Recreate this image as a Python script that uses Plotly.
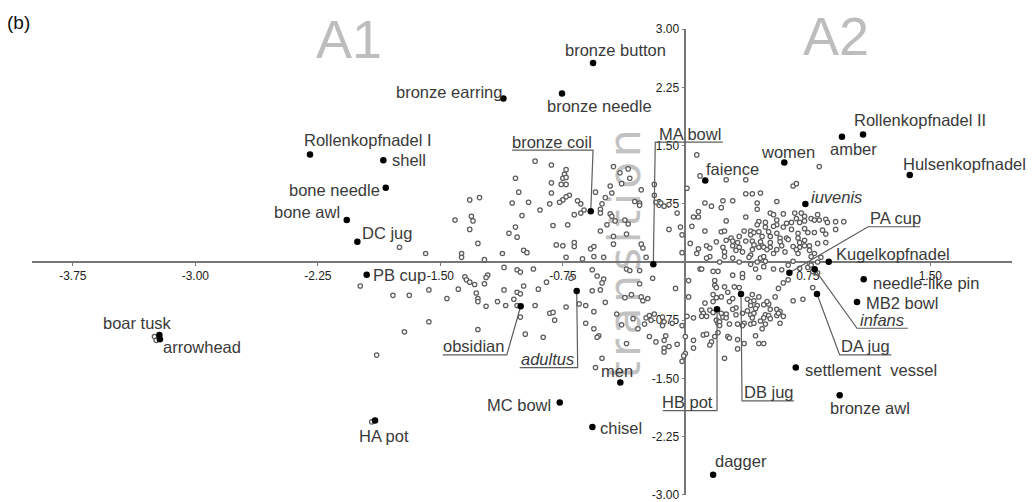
import plotly.graph_objects as go

# ---------------- data ----------------
circ_x = [
    -3.25, -3.24, -1.92, -1.99, -1.89, -1.79, -1.69, -1.72, -1.57, -1.57, -1.59, -1.75, -1.41, -1.46, -1.39,
    -1.37, -1.37, -1.35, -1.34, -1.32, -1.29, -1.32, -1.26, -1.31, -1.30, -1.32, -1.27, -1.23, -1.21, -1.22,
    -1.23, -1.28, -1.27, -1.27, -1.22, -1.15, -1.11, -1.10, -1.05, -1.03, -1.01, -0.99, -1.11, -1.03, -1.01,
    -0.93, -1.12, -0.99, -0.97, -1.03, -0.92, -1.01, -0.98, -1.27, -0.92, -1.04, -1.02, -1.06, -0.96, -0.89,
    -1.00, -1.04, -1.08, -1.03, -0.82, -0.73, -0.74, -0.75, -0.73, -0.82, -0.76, -0.73, -0.82, -0.71, -0.73,
    -0.75, -0.77, -0.83, -0.66, -0.64, -0.62, -0.64, -0.68, -0.81, -0.72, -0.55, -0.51, -0.52, -0.52, -0.49,
    -0.45, -0.46, -0.44, -0.40, -0.35, -0.34, -0.39, -0.46, -0.45, -0.43, -0.48, -0.37, -0.35, -0.52, -0.44,
    -0.36, -0.31, -0.28, -0.28, -0.27, -0.19, -0.19, -0.18, -0.15, -0.13, -0.10, -0.05, 0.01, 0.07, 0.08,
    0.05, -0.10, -0.03, -0.02, 0.04, -0.79, -0.75, -0.68, -0.68, -0.63, -0.58, -0.56, -0.56, -0.50, -0.44,
    -0.27, -0.26, -0.24, -0.02, 0.08, -0.73, -0.85, -0.70, -0.57, -0.54, -0.50, -0.51, -0.36, -0.34, -0.28,
    -0.20, -0.28, -0.06, 0.09, 0.02, 0.02, -0.57, -0.52, -0.65, -0.61, -0.73, -0.49, -0.37, -0.33, -0.27,
    -0.26, -0.23, -0.56, -0.42, -0.83, -0.81, -0.80, -0.61, -0.32, -0.39, -0.24, -0.22, -0.19, -0.25, -0.21,
    -0.14, -0.13, -0.14, -0.08, -0.02, 0.01, -0.29, -0.56, -0.53, -0.54, -0.87, -0.22, -0.18, -0.12, -0.13,
    0.00, 0.05, -0.36, -0.13, -0.13, -0.10, -0.05, 0.00, -0.01, 0.05, -0.02, -0.51, -0.55, -0.90,
    0.21, 0.33, 0.40, 0.44, 0.46, 0.48, 0.49, 0.43, 0.48, 0.10, 0.17, 0.20, 0.29, 0.35, 0.35,
    0.45, 0.54, 0.59, 0.63, 0.66, 0.70, 0.75, 0.77, 0.81, 0.83, 0.78, 0.81,
    0.18, 0.18, 0.19, 0.24, 0.30, 0.33, 0.26, 0.22, 0.19, 0.17, 0.41, 0.45, 0.57, 0.60, 0.63,
    0.55, 0.66, 0.72, 0.78,
    0.12, 0.17, 0.27, 0.31, 0.29, 0.29, 0.38, 0.40, 0.40, 0.42, 0.44, 0.43, 0.48, 0.51, 0.50,
    0.52, 0.56, 0.58, 0.49, 0.48, 0.51, 0.52, 0.56, 0.57, 0.60, 0.38, 0.40, 0.42, 0.41, 0.35,
    0.31, 0.25, 0.23, 0.25, 0.22, 0.10, 0.11, 0.10, 0.15, 0.17, 0.05, 0.13, 0.19, 0.20, 0.21,
    0.21, 0.27, 0.32, 0.36, 0.35, 0.40, 0.42, 0.46, 0.49, 0.58, 0.47, 0.11, 0.13, 0.18, 0.20,
    0.26, 0.27, 0.32, 0.43, 0.36, 0.45, 0.48, 0.16, 0.15, 0.24, 0.32,
    0.09, 0.25, 0.37, 0.82, 0.66, 0.68, 0.37, 0.41, 0.46, 0.12, 0.16, 0.23, 0.22, 0.29, 0.44,
    0.44, 0.56, 0.08, 0.37, 0.25, 0.52, 0.54, 0.60, 0.67, 0.71, 0.68, 0.65, 0.70, 0.73, 0.73,
    0.77, 0.79, 0.81, 0.82, 0.86, 0.87, 0.92, 0.45, 0.44, 0.49, 0.49, 0.56, 0.56, 0.54, 0.60,
    0.62, 0.65, 0.69, 0.73, 0.75, 0.79, 0.84, 0.86, 0.12, 0.22, 0.24, 0.36, 0.40, 0.40, 0.42,
    0.45, 0.47, 0.51, 0.52, 0.56, 0.58, 0.62, 0.69, 0.70, 0.73, 0.76, 0.81, 0.86, 0.19, 0.25,
    0.28, 0.29, 0.33, 0.32, 0.37, 0.41, 0.42, 0.46, 0.47, 0.52, 0.52, 0.58, 0.59, 0.63, 0.66,
    0.70, 0.73, 0.03, 0.13, 0.15, 0.23, 0.24, 0.29, 0.31, 0.33, 0.35, 0.41, 0.40, 0.45, 0.48,
    0.50, 0.54, 0.56, 0.61, 0.68, 0.69, 0.76, 0.79, 0.77, 0.39, 0.24, 0.29, 0.15, 0.13, 0.07,
    0.92, 0.97,
]
circ_y = [
    -0.96, -1.01, -2.06, -0.31, -1.20, -0.43, -0.43, -0.90, -0.36, -0.77, 0.11, 0.19, 0.54, -0.47, -0.35,
    0.11, 0.06, -0.19, -0.23, -0.26, -0.29, 0.80, 0.83, 0.59, 0.53, 0.42, 0.24, 0.03, -0.17, -0.20,
    -0.28, -0.40, -0.47, -0.51, -0.57, -0.51, -0.36, -0.56, -0.48, -0.39, -0.41, -0.31, -0.07, -0.10, -0.13,
    -0.09, 0.11, 0.15, 0.12, -0.56, -0.56, -0.71, -0.93, -0.87, 1.30, 1.08, 0.90, 0.76, 0.77, 0.67,
    0.60, 0.45, 0.37, 0.32, 1.25, 1.19, 1.13, 1.08, 1.09, 1.02, 1.00, 1.00, 0.89, 0.86, 0.84,
    0.80, 0.77, 0.75, 0.79, 0.75, 0.67, 0.63, 0.61, 0.47, 0.48, 0.90, 0.75, 0.68, 0.63, 0.83,
    0.89, 0.98, 1.23, 1.15, 1.20, 1.08, 1.01, 0.62, 0.59, 0.53, 0.48, 0.54, 0.49, 0.40, 0.33,
    0.36, 0.78, 0.76, 0.73, 0.93, 1.00, 0.86, 0.77, 0.76, 0.72, 0.74, 0.63, 0.95, 1.38, 0.65,
    0.58, 0.42, 0.45, 0.35, 0.46, 0.22, 0.21, 0.25, 0.20, 0.04, 0.17, 0.20, 0.07, 0.06, 0.23,
    0.23, 0.18, 0.06, 0.12, 0.17, 0.06, -0.26, -0.21, -0.10, -0.18, -0.22, -0.27, -0.09, -0.11, -0.11,
    -0.21, -0.28, -0.34, -0.09, -0.24, -0.45, -0.37, -0.36, -0.54, -0.56, -0.58, -0.52, -0.46, -0.42, -0.45,
    -0.50, -0.47, -0.64, -0.67, -0.66, -0.65, -0.75, -0.79, -0.73, -0.81, -0.72, -0.69, -0.67, -0.80, -0.75,
    -0.71, -0.77, -0.82, -0.79, -0.82, -0.70, -0.86, -0.86, -0.95, -0.97, -0.97, -0.96, -1.03, -0.95, -1.01,
    -0.96, -1.01, -1.05, -1.11, -1.16, -1.09, -1.06, -1.18, -1.21, -1.11, -1.28, -1.24, -1.36, -0.35,
    0.00, 0.00, -0.03, 0.00, 0.05, 0.07, 0.01, -0.09, -0.06, -0.09, -0.12, -0.12, -0.17, -0.15, -0.20,
    -0.20, -0.09, -0.10, -0.04, 0.01, -0.08, -0.07, -0.04, 0.00, 0.06, -0.12, -0.14,
    -0.24, -0.30, -0.33, -0.32, -0.32, -0.33, -0.39, -0.45, -0.46, -0.42, -0.42, -0.45, -0.34, -0.27, -0.23,
    -0.45, -0.50, -0.48, -0.33,
    -0.53, -0.51, -0.51, -0.59, -0.61, -0.47, -0.48, -0.51, -0.56, -0.50, -0.56, -0.60, -0.55, -0.54, -0.51,
    -0.61, -0.61, -0.64, -0.68, -0.72, -0.69, -0.73, -0.69, -0.66, -0.70, -0.63, -0.68, -0.66, -0.72, -0.66,
    -0.68, -0.67, -0.71, -0.72, -0.66, -0.62, -0.66, -0.70, -0.62, -0.65, -0.72, -0.70, -0.75, -0.79, -0.77,
    -0.82, -0.80, -0.80, -0.79, -0.82, -0.80, -0.79, -0.76, -0.80, -0.79, -0.86, -0.94, -0.93, -0.96, -0.91,
    -0.96, -0.98, -1.00, -0.95, -1.05, -1.05, -1.05, -1.03, -1.07, -1.24, -1.12,
    1.11, 1.06, 1.06, 1.23, 0.98, 1.01, 0.88, 0.88, 0.89, 0.76, 0.72, 0.79, 0.70, 0.79, 0.76,
    0.68, 0.78, 0.58, 0.58, 0.53, 0.63, 0.61, 0.62, 0.63, 0.63, 0.56, 0.51, 0.51, 0.53, 0.59,
    0.56, 0.54, 0.61, 0.54, 0.55, 0.51, 0.42, 0.52, 0.48, 0.45, 0.51, 0.54, 0.48, 0.46, 0.45,
    0.50, 0.42, 0.37, 0.43, 0.38, 0.38, 0.41, 0.36, 0.40, 0.39, 0.40, 0.40, 0.40, 0.35, 0.38,
    0.39, 0.33, 0.39, 0.33, 0.37, 0.31, 0.31, 0.31, 0.25, 0.28, 0.21, 0.24, 0.25, 0.26, 0.28,
    0.31, 0.27, 0.33, 0.25, 0.27, 0.27, 0.22, 0.26, 0.21, 0.25, 0.19, 0.26, 0.21, 0.29, 0.20,
    0.19, 0.21, 0.24, 0.21, 0.18, 0.19, 0.13, 0.21, 0.15, 0.19, 0.13, 0.16, 0.09, 0.19, 0.19,
    0.16, 0.11, 0.16, 0.13, 0.16, 0.11, 0.15, 0.11, 0.07, 0.06, 0.07, 0.05, 0.07, 0.05, 0.11,
    0.52, 0.52,
]

item_names = [
    "bronze button", "bronze needle", "bronze earring", "Rollenkopfnadel I", "shell", "bone needle",
    "bone awl", "DC jug", "PB cup", "boar tusk", "arrowhead", "HA pot", "obsidian", "adultus", "men",
    "MC bowl", "chisel", "dagger", "HB pot", "DB jug", "DA jug", "infans", "Kugelkopfnadel", "PA cup",
    "needle-like pin", "MB2 bowl", "settlement  vessel", "bronze awl", "Hulsenkopfnadel",
    "Rollenkopfnadel II", "amber", "women", "faience", "iuvenis", "bronze coil", "MA bowl",
]
item_x = [
    -0.565, -0.755, -1.114, -2.298, -1.849, -1.834, -2.073, -2.008, -1.951, -3.220, -3.217, -1.900,
    -1.008, -0.665, -0.398, -0.769, -0.569, 0.170, 0.194, 0.341, 0.806, 0.792, 0.878, 0.637,
    1.092, 1.051, 0.676, 0.945, 1.374, 1.088, 0.959, 0.606, 0.122, 0.735, -0.579, -0.196,
]
item_y = [
    2.566, 2.172, 2.108, 1.387, 1.313, 0.957, 0.541, 0.261, -0.164, -0.940, -0.995, -2.043,
    -0.570, -0.373, -1.554, -1.812, -2.128, -2.742, -0.609, -0.412, -0.412, -0.094, 0.004, -0.138,
    -0.223, -0.515, -1.361, -1.716, 1.120, 1.644, 1.613, 1.284, 1.052, 0.747, 0.653, -0.030,
]

x_ticks = [-3.75, -3.00, -2.25, -1.50, -0.75, 0.75, 1.50]
y_ticks = [3.00, 2.25, 1.50, 0.75, -0.75, -1.50, -2.25, -3.00]

# ---------------- label layout ----------------
ITALIC = {"iuvenis", "infans", "adultus"}

# plain labels: pixel offset (dx, dy) of the text centre from its point
plain_offsets = {
    "bronze button": (22, 12.7), "bronze needle": (37.7, -12.7), "bronze earring": (-54.3, 6.6),
    "Rollenkopfnadel I": (58, 14.3), "shell": (25.5, 0), "bone needle": (-51.5, -2.3),
    "bone awl": (-40.2, 7.7), "DC jug": (29.9, 8.4), "PB cup": (33.3, -0.3),
    "boar tusk": (-22.3, 12.3), "arrowhead": (42, -8), "HA pot": (8.8, -15.3),
    "MC bowl": (-40.7, -2.3), "chisel": (29, -1), "men": (-3, 11.7), "dagger": (28, 13.3),
    "settlement  vessel": (75.1, -2.3), "bronze awl": (30.8, -13), "needle-like pin": (62.3, -4),
    "MB2 bowl": (44.5, -1.3), "Kugelkopfnadel": (63.8, 7.7), "iuvenis": (31.2, 7.3),
    "women": (4, 10.6), "amber": (12, -12.6), "Rollenkopfnadel II": (57.3, 14.3),
    "Hulsenkopfnadel": (54.8, 11), "faience": (27.7, 11),
}

# underlined labels with leader lines: text centre x, underline x0, x1, y, end joined to the point
leaders = {
    "bronze coil": (-0.819, -1.061, -0.565, 1.442, "right"),
    "MA bowl": (0.026, -0.184, 0.229, 1.545, "left"),
    "PA cup": (1.287, 1.119, 1.437, 0.454, "left"),
    "infans": (1.207, 1.051, 1.362, -0.854, "left"),
    "DA jug": (1.100, 0.945, 1.261, -1.197, "left"),
    "DB jug": (0.511, 0.347, 0.664, -1.790, "left"),
    "HB pot": (0.016, -0.138, 0.194, -1.915, "right"),
    "adultus": (-0.845, -1.014, -0.659, -1.361, "right"),
    "obsidian": (-1.294, -1.485, -1.093, -1.197, "right"),
}

FONT = "Liberation Sans, Arial, sans-serif"
LABEL_COLOR = "#3a3a3a"
LABEL_SIZE = 16.5

fig = go.Figure()

# "transition" watermark, under the points
fig.add_shape(
    type="rect", xref="x", yref="y", x0=-0.49, x1=-0.29, y0=-1.5, y1=1.706,
    line=dict(width=0), fillcolor="rgba(0,0,0,0)", layer="between",
    label=dict(text="\u200a".join("transition"), textangle=-90, textposition="middle center",
               font=dict(size=44, color="#c2c2c2", family="DejaVu Sans, sans-serif")),
)

# leader lines
lx, ly = [], []
pos = {n: (x, y) for n, x, y in zip(item_names, item_x, item_y)}
for name, (tcx, ux0, ux1, uy, side) in leaders.items():
    px_, py_ = pos[name]
    if side == "right":
        lx += [ux0, ux1, px_, None]
    else:
        lx += [ux1, ux0, px_, None]
    ly += [uy, uy, py_, None]

fig.add_trace(go.Scatter(
    x=circ_x, y=circ_y, mode="markers", hoverinfo="skip",
    marker=dict(size=4.4, color="white", line=dict(color="#5c5c5c", width=1.25)),
))
fig.add_trace(go.Scatter(
    x=lx, y=ly, mode="lines", hoverinfo="skip",
    line=dict(color="#5e5e5e", width=1.2),
))
fig.add_trace(go.Scatter(
    x=item_x, y=item_y, mode="markers", text=item_names, hoverinfo="text",
    marker=dict(size=6.5, color="black"),
))

annotations = []
for name, x, y in zip(item_names, item_x, item_y):
    txt = f"<i>{name}</i>" if name in ITALIC else name
    if name in plain_offsets:
        dx, dy = plain_offsets[name]
        annotations.append(dict(
            x=x, y=y, xref="x", yref="y", text=txt, showarrow=False,
            xanchor="center", yanchor="middle", xshift=dx, yshift=dy,
            font=dict(size=LABEL_SIZE, color=LABEL_COLOR, family=FONT),
        ))
    else:
        tcx, ux0, ux1, uy, side = leaders[name]
        annotations.append(dict(
            x=tcx, y=uy, xref="x", yref="y", text=txt, showarrow=False,
            xanchor="center", yanchor="middle", yshift=8.5,
            font=dict(size=LABEL_SIZE, color=LABEL_COLOR, family=FONT),
        ))

annotations += [
    dict(x=-2.059, y=2.871, xref="x", yref="y", text="A1", showarrow=False,
         font=dict(size=54, color="#bdbdbd", family=FONT)),
    dict(x=0.920, y=2.910, xref="x", yref="y", text="A2", showarrow=False,
         font=dict(size=54, color="#bdbdbd", family=FONT)),
    dict(x=-0.0133, y=1.0129, xref="paper", yref="paper", text="(b)", showarrow=False,
         xanchor="center", yanchor="middle", font=dict(size=19, color="#111", family=FONT)),
]

fig.update_layout(
    width=1034, height=502,
    margin=dict(l=32, r=22, t=29, b=7, autoexpand=False),
    paper_bgcolor="white", plot_bgcolor="white",
    showlegend=False,
    font=dict(family=FONT),
    annotations=annotations,
    xaxis=dict(
        range=[-4, 2], anchor="free", position=0.5, showgrid=False, zeroline=False,
        showline=True, linecolor="#777", linewidth=1.5, ticks="outside", ticklen=3,
        tickcolor="#777", tickvals=x_ticks, ticktext=[f"{v:.2f}" for v in x_ticks],
        tickfont=dict(size=12, color="#222", family=FONT), layer="below traces",
        ticklabeloverflow="allow", automargin=False,
    ),
    yaxis=dict(
        range=[-3.003, 3.003], anchor="free", position=4 / 6, showgrid=False, zeroline=False,
        showline=True, linecolor="#777", linewidth=1.5, ticks="outside", ticklen=3,
        tickcolor="#777", tickvals=y_ticks, ticktext=[f"{v:.2f}" for v in y_ticks],
        tickfont=dict(size=12, color="#222", family=FONT), layer="below traces",
        ticklabeloverflow="allow", automargin=False,
    ),
)

fig.write_html("out.html")
